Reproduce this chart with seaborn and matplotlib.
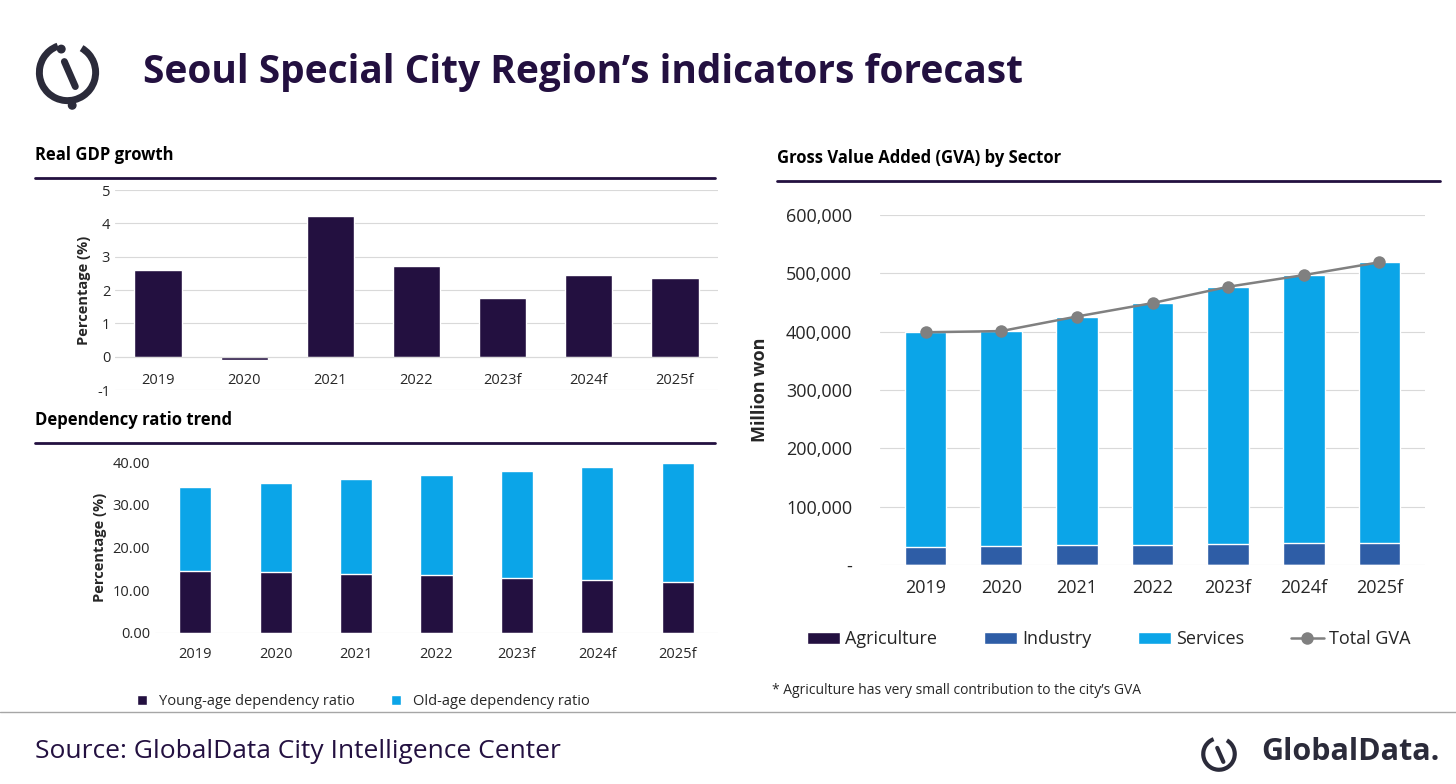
import numpy as np
import pandas as pd
import seaborn as sns
import matplotlib.pyplot as plt
from matplotlib.patches import Arc, Circle
from matplotlib.lines import Line2D
from matplotlib.ticker import FuncFormatter

years = ["2019", "2020", "2021", "2022", "2023f", "2024f", "2025f"]
gdp_growth = [2.6, -0.1, 4.22, 2.72, 1.75, 2.45, 2.35]
young_dep = [14.5, 14.3, 13.8, 13.5, 12.9, 12.4, 11.9]
old_dep = [19.7, 20.9, 22.3, 23.5, 25.1, 26.5, 27.9]
agriculture = [500, 500, 500, 500, 500, 500, 500]
industry = [30000, 32000, 34000, 34000, 35000, 37000, 38000]
total_gva = [399000, 401000, 426000, 449000, 477000, 497000, 519000]

NAVY = "#231040"
BLUE = "#2E5DA6"
CYAN = "#0BA5E8"
GREY = "#808080"

sns.set_theme(style="white")
plt.rcParams["font.family"] = ["Open Sans", "DejaVu Sans"]
plt.rcParams["axes.unicode_minus"] = False

W, H = 1456, 784
fig = plt.figure(figsize=(W / 100, H / 100), dpi=100)


def px_axes(x0, y0, x1, y1):
    return fig.add_axes([x0 / W, 1 - y1 / H, (x1 - x0) / W, (y1 - y0) / H])


def heading(x, y, x_end, text):
    fig.text(x / W, 1 - y / H, text, fontsize=12, fontweight="bold", color="black", va="center")
    fig.add_artist(Line2D([x / W, x_end / W], [1 - (y + 23) / H] * 2, color=NAVY, lw=2))


def clean(ax):
    for s in ax.spines.values():
        s.set_visible(False)
    ax.tick_params(length=0, labelsize=10.5)
    ax.set_xlabel("")


# title and logo
fig.text(143 / W, 1 - 72 / H, "Seoul Special City Region\u2019s indicators forecast",
         fontsize=28, fontweight="bold", color=NAVY, va="center")
logo = fig.add_axes([30 / W, 1 - 110 / H, 75 / W, 75 / H])
logo.set_xlim(-1.2, 1.2); logo.set_ylim(-1.2, 1.2); logo.axis("off"); logo.set_aspect("equal")
logo.add_patch(Arc((0, 0), 1.8, 1.8, theta1=110, theta2=420, lw=5, color="#2b2b3a"))
logo.plot([-0.1, 0.25], [0.35, -0.45], color="#2b2b3a", lw=5, solid_capstyle="round")
logo.add_patch(Circle((-0.2, 0.75), 0.12, color="#2b2b3a"))
logo.add_patch(Circle((0.15, -1.05), 0.12, color="#2b2b3a"))

# Real GDP growth
heading(35, 155, 715, "Real GDP growth")
ax1 = px_axes(115, 190, 718, 390)
sns.barplot(x=years, y=gdp_growth, color=NAVY, width=0.55, saturation=1, ax=ax1)
ax1.set_ylim(-1, 5)
ax1.set_yticks(range(-1, 6))
ax1.yaxis.grid(True, color="#d9d9d9", lw=0.8)
ax1.set_axisbelow(True)
ax1.axhline(0, color="#d9d9d9", lw=0.8)
ax1.set_ylabel("Percentage (%)", fontsize=10.5, fontweight="bold")
ax1.set_xticks(range(len(years)))
ax1.set_xticklabels([])
for i, yr in enumerate(years):
    ax1.text(i, -0.72, yr, ha="center", va="center", fontsize=10.5)
clean(ax1)

# Dependency ratio
heading(35, 420, 715, "Dependency ratio trend")
ax2 = px_axes(155, 462, 718, 633)
total_dep = [a + b for a, b in zip(young_dep, old_dep)]
sns.barplot(x=years, y=total_dep, color=CYAN, width=0.4, saturation=1, ax=ax2,
            label="Old-age dependency ratio")
sns.barplot(x=years, y=young_dep, color=NAVY, width=0.4, saturation=1, ax=ax2,
            label="Young-age dependency ratio")
ax2.set_ylim(0, 40)
ax2.set_yticks(range(0, 41, 10))
ax2.yaxis.set_major_formatter(FuncFormatter(lambda v, p: f"{v:.2f}"))
ax2.set_ylabel("Percentage (%)", fontsize=10.5, fontweight="bold")
ax2.axhline(0, color="#d9d9d9", lw=0.8)
clean(ax2)
ax2.tick_params(axis="x", pad=10)
h, l = ax2.get_legend_handles_labels()
ax2.legend(h[::-1], l[::-1], loc="upper center", bbox_to_anchor=(0.37, -0.28), ncol=2,
           frameon=False, fontsize=10.5, handlelength=0.7, handleheight=0.7, columnspacing=2.5)

# GVA
heading(777, 158, 1440, "Gross Value Added (GVA) by Sector")
ax3 = px_axes(880, 215, 1425, 565)
sns.barplot(x=years, y=total_gva, color=CYAN, width=0.55, saturation=1, ax=ax3, label="Services")
sns.barplot(x=years, y=[a + b for a, b in zip(agriculture, industry)], color=BLUE, width=0.55,
            saturation=1, ax=ax3, label="Industry")
sns.barplot(x=years, y=agriculture, color=NAVY, width=0.55, saturation=1, ax=ax3, label="Agriculture")
sns.lineplot(x=np.arange(len(years)), y=total_gva, color=GREY, marker="o", markersize=9,
             markeredgewidth=0, lw=1.8, ax=ax3, label="Total GVA")
ax3.set_ylim(0, 600000)
ax3.set_yticks(range(0, 600001, 100000))
ax3.yaxis.set_major_formatter(FuncFormatter(lambda v, p: "-" if v == 0 else f"{int(v):,}"))
ax3.yaxis.grid(True, color="#d9d9d9", lw=0.8)
ax3.set_axisbelow(True)
ax3.set_ylabel("Million won", fontsize=13, fontweight="bold", labelpad=12)
clean(ax3)
ax3.tick_params(labelsize=13)
ax3.tick_params(axis="y", pad=20)
ax3.tick_params(axis="x", pad=10)
h, l = ax3.get_legend_handles_labels()
hmap = dict(zip(l, h))
names = ["Agriculture", "Industry", "Services", "Total GVA"]
ax3.legend([hmap[n] for n in names], names, loc="upper center",
           bbox_to_anchor=(0.42, -0.14), ncol=4, frameon=False, fontsize=13,
           handlelength=1.8, handleheight=0.7, columnspacing=2.6, handletextpad=0.3)
fig.text(772 / W, 1 - 690 / H, "* Agriculture has very small contribution to the city\u2019s GVA",
         fontsize=10, va="center")

# footer
fig.add_artist(Line2D([0, 1], [1 - 712 / H] * 2, color="#a6a6a6", lw=1))
fig.text(35 / W, 1 - 752 / H, "Source: GlobalData City Intelligence Center", fontsize=19,
         color=NAVY, va="center")
fig.text(1440 / W, 1 - 752 / H, "GlobalData.", fontsize=22, color="#2b2b3a", va="center",
         ha="right", fontweight="bold")
glogo = fig.add_axes([1198 / W, 1 - 775 / H, 42 / W, 42 / H])
glogo.set_xlim(-1.2, 1.2); glogo.set_ylim(-1.2, 1.2); glogo.axis("off"); glogo.set_aspect("equal")
glogo.add_patch(Arc((0, 0), 1.8, 1.8, theta1=110, theta2=420, lw=3, color="#2b2b3a"))
glogo.plot([-0.1, 0.25], [0.35, -0.45], color="#2b2b3a", lw=3)

fig.savefig("out.png", dpi=100)
